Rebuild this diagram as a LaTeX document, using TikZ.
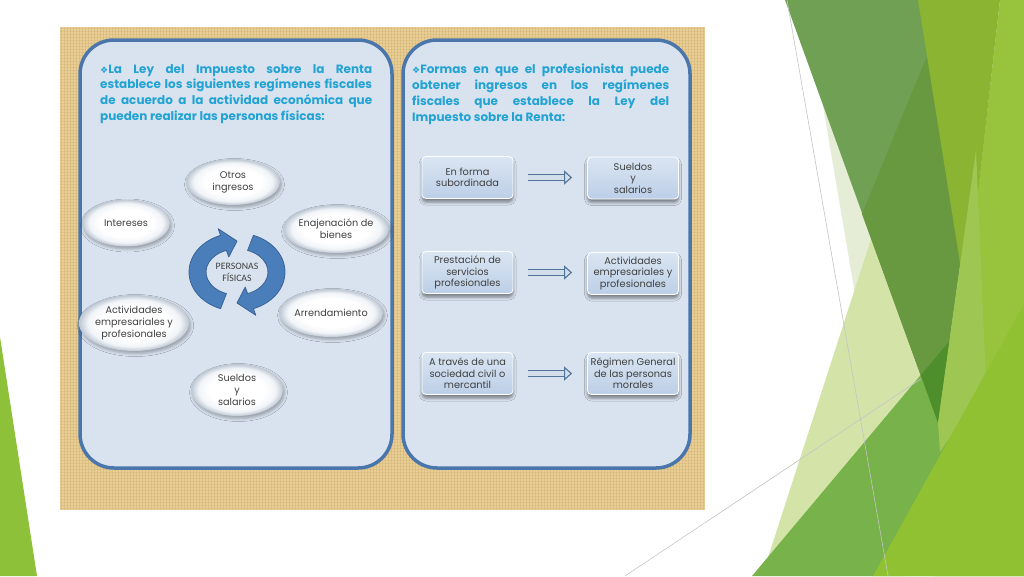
\documentclass[tikz,border=0pt]{standalone}
\usepackage{fontspec}
\usetikzlibrary{shapes.geometric,shadows.blur,arrows.meta,calc}
\newfontfamily\popfont{Poppins}
\newfontfamily\calfont{Carlito}
\newfontfamily\djfont{DejaVu Sans}
\definecolor{hdrcol}{HTML}{23A3D3}
\definecolor{panelfill}{HTML}{D9E3EF}
\definecolor{paneledge}{HTML}{4A76AB}
\definecolor{texfill}{HTML}{E8CD94}
\definecolor{texline}{HTML}{BF9B58}
\definecolor{txtgray}{HTML}{404040}
\definecolor{boxtop}{HTML}{DAE5F2}
\definecolor{boxbot}{HTML}{BCCFE7}
\definecolor{arrfill}{HTML}{D3DEEB}
\definecolor{arrline}{HTML}{52739A}
\definecolor{cycfill}{HTML}{4A7EBB}
\definecolor{cycedge}{HTML}{3A6497}
\definecolor{glowmid}{HTML}{F1F4F8}
\definecolor{glowedge}{HTML}{BCC7D3}
\definecolor{gPale}{HTML}{E5EDD6}
\definecolor{gLight}{HTML}{D4E4A9}
\definecolor{gOliveL}{HTML}{70A053}
\definecolor{gOliveD}{HTML}{689941}
\definecolor{gDeep}{HTML}{4E8E2B}
\definecolor{gMid}{HTML}{78B24A}
\definecolor{gLime}{HTML}{98C43D}
\definecolor{gLime2}{HTML}{90C133}
\definecolor{gYel}{HTML}{8AB431}
\definecolor{gSoft}{HTML}{9EC653}
\definecolor{gLeft}{HTML}{8EC13A}
\definecolor{lineGray}{HTML}{C4C4C4}
\pgfdeclareradialshading{glow}{\pgfpoint{0bp}{0bp}}{color(0bp)=(white); color(15bp)=(white); color(21bp)=(glowmid); color(25bp)=(glowedge); color(50bp)=(glowedge)}
\newcommand\hdrfont{\popfont\bfseries\fontsize{12}{15.8}\selectfont}
\newcommand\bul{{\djfont\fontsize{9}{10}\selectfont ❖}}
\tikzset{
  panel/.style={draw=paneledge, line width=3.5pt, fill=panelfill, rounded corners=34pt},
  hdr/.style={inner sep=0pt, align=left, text=hdrcol, font=\hdrfont},
  ell/.style={ellipse, shading=glow, inner sep=0pt, align=center, text=txtgray,
     font=\popfont\fontsize{9.7}{11.8}\selectfont,
     blur shadow={shadow xshift=1.5pt, shadow yshift=-2.5pt, shadow blur radius=3pt, shadow opacity=30}},
  rbox/.style={rectangle, rounded corners=4pt, minimum width=91pt, minimum height=42pt,
     top color=boxtop, bottom color=boxbot, draw=white, line width=0.8pt, inner sep=1pt,
     align=center, text=txtgray, font=\popfont\fontsize{9.8}{11.5}\selectfont,
     blur shadow={shadow xshift=0pt, shadow yshift=-3.5pt, shadow blur radius=3pt, shadow opacity=45}},
  conn/.style={draw=arrline, line width=1.1pt, double=arrfill, double distance=4.2pt,
     -{Triangle[length=8pt, width=14pt, fill=arrfill]}, shorten <=15pt, shorten >=15pt},
  cyc/.style={fill=cycfill, draw=cycedge, line width=0.8pt, line join=round},
  gline/.style={draw=lineGray, line width=0.6pt},
}
\begin{document}
\begin{tikzpicture}[x=1pt,y=-1pt]
\useasboundingbox (0,0) rectangle (1024,576);
\fill[white] (0,0) rectangle (1024,576);

% ---- decorative green facets (right) ----
\fill[gPale] (822,100) -- (885,470) -- (960,300) -- cycle;
\fill[gLight] (872,236) -- (762,576) -- (905,576) -- (945,400) -- cycle;
\fill[gOliveL] (785,0) -- (997,0) -- (938,423) -- cycle;
\fill[gOliveD] (950,0) -- (862,214) -- (938,423) -- (997,0) -- cycle;
\fill[gMid] (752,576) -- (1024,252) -- (1024,576) -- cycle;
\fill[gDeep] (920.7,375.1) -- (949.5,340.8) -- (938,423) -- cycle;
\draw[gline] (625,576) -- (920.7,379);
\fill[gLime] (1000,0) -- (1024,0) -- (1024,576) -- (934,576) -- cycle;
\fill[gYel] (918,0) -- (1000,0) -- (966,300) -- cycle;
\fill[gSoft] (976,150) -- (986,385) -- (940,452) -- (938,423) -- cycle;
\fill[gLime2] (873,576) -- (1024,304) -- (1024,576) -- cycle;
\draw[gline] (787,0) -- (888,576);
% ---- decorative green facet (left) ----
\fill[gLeft] (0,337) -- (37,576) -- (0,576) -- cycle;

% ---- textured background ----
\fill[texfill] (60,27) rectangle (705,510);
\foreach \i in {61.5,64.5,...,704} \draw[texline, opacity=0.25, line width=0.6pt] (\i,27) -- (\i,510);
\foreach \j in {28.5,31.5,...,509} \draw[texline, opacity=0.18, line width=0.6pt] (60,\j) -- (705,\j);

% ---- panels ----
\draw[panel] (80,40) rectangle (392,468);
\draw[panel] (403,40) rectangle (690,468);

% ---- headers ----
\node[hdr, anchor=north west] (hl) at (100,64) {%
\makebox[272pt][s]{\bul La Ley del Impuesto sobre la Renta}\\
\makebox[272pt][s]{establece los siguientes regímenes fiscales}\\
\makebox[272pt][s]{de acuerdo a la actividad económica que}\\
pueden realizar las personas físicas:};
\node[hdr, anchor=north west] (hr) at (412,64) {%
\makebox[257pt][s]{\bul Formas en que el profesionista puede}\\
\makebox[257pt][s]{obtener ingresos en los regímenes}\\
\makebox[257pt][s]{fiscales que establece la Ley del}\\
Impuesto sobre la Renta:};

% ---- left: cycle ----
\begin{scope}[shift={(237,272)}]
  \path[cyc] (110:48 and 39) arc[start angle=110, end angle=250, x radius=48, y radius=39]
     -- (250:55 and 46) -- (270:39.5 and 31) -- (250:24 and 16)
     -- (250:31 and 23) arc[start angle=250, end angle=110, x radius=31, y radius=23] -- cycle;
  \begin{scope}[rotate=180]
  \path[cyc] (110:48 and 39) arc[start angle=110, end angle=250, x radius=48, y radius=39]
     -- (250:55 and 46) -- (270:39.5 and 31) -- (250:24 and 16)
     -- (250:31 and 23) arc[start angle=250, end angle=110, x radius=31, y radius=23] -- cycle;
  \end{scope}
\end{scope}
\node[text=txtgray, align=center, font=\calfont\fontsize{9.8}{12}\selectfont] (pf) at (237,272) {PERSONAS\\FÍSICAS};

\node[ell, minimum width=94pt, minimum height=46pt] (oi) at (233,182) {Otros\\ingresos};
\node[ell, minimum width=88pt, minimum height=47pt] (int) at (126,223) {Intereses};
\node[ell, minimum width=94pt, minimum height=48pt] (ena) at (336,229) {Enajenación de\\bienes};
\node[ell, minimum width=90pt, minimum height=56pt] (act) at (134,323) {Actividades\\empresariales y\\profesionales};
\node[ell, minimum width=90pt, minimum height=48pt] (arr) at (331,313) {Arrendamiento};
\node[ell, minimum width=92pt, minimum height=52pt] (sue) at (237,390) {Sueldos\\y\\salarios};

% ---- right: boxes ----
\node[rbox] (a1) at (467.5,177.5) {En forma\\subordinada};
\node[rbox] (b1) at (633,178) {Sueldos\\y\\salarios};
\node[rbox] (a2) at (467.5,272.5) {Prestación de\\servicios\\profesionales};
\node[rbox] (b2) at (633,273.5) {Actividades\\empresariales y\\profesionales};
\node[rbox] (a3) at (467.5,373.5) {A través de una\\sociedad civil o\\mercantil};
\node[rbox] (b3) at (633,373.5) {Régimen General\\de las personas\\morales};
\draw[conn] (a1.east) -- (b1.west |- a1.east);
\draw[conn] (a2.east) -- (b2.west |- a2.east);
\draw[conn] (a3.east) -- (b3.west |- a3.east);
\end{tikzpicture}
\end{document}
